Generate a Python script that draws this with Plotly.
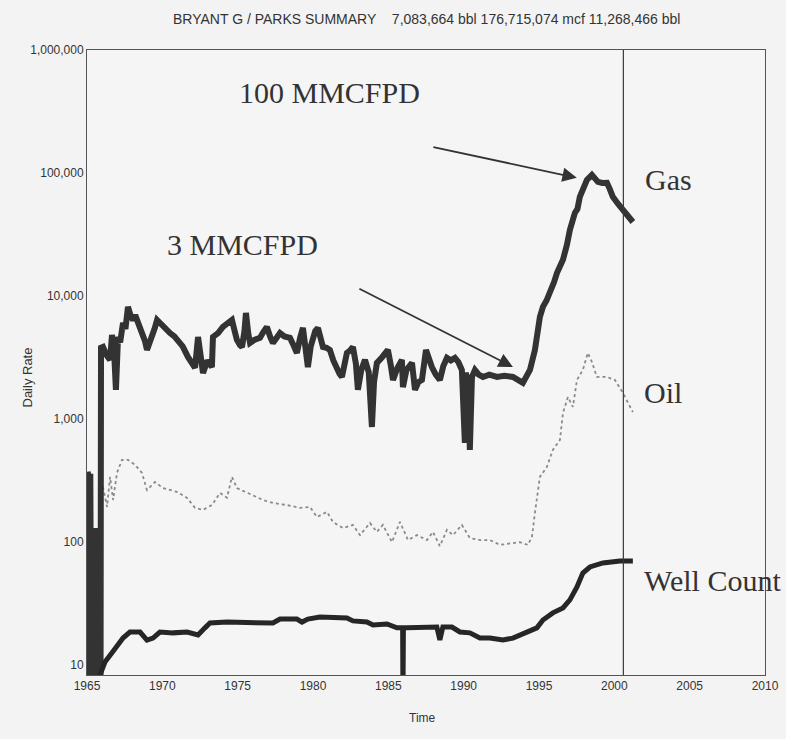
import plotly.graph_objects as go

# ---------------- data ----------------
gas_year = [1965.02, 1965.04, 1965.10, 1965.13, 1965.19, 1965.22, 1965.28,
            1965.45, 1965.48, 1965.55, 1965.60, 1965.67, 1965.72, 1965.80, 1965.85, 1965.90, 1965.93,
            1966.06, 1966.30, 1966.53, 1966.66, 1966.80, 1966.92, 1967.06, 1967.20, 1967.39, 1967.55,
            1967.72, 1967.90, 1968.05, 1968.20, 1968.38, 1968.55, 1968.72, 1968.85, 1968.98, 1969.15,
            1969.31, 1969.50, 1969.65, 1969.85, 1970.04, 1970.25, 1970.51, 1970.80, 1971.04, 1971.35,
            1971.70, 1971.95, 1972.17, 1972.37, 1972.55, 1972.70, 1973.00, 1973.29, 1973.36, 1973.70,
            1974.02, 1974.30, 1974.62, 1974.80, 1974.95, 1975.15, 1975.29, 1975.45, 1975.55, 1975.70,
            1975.82, 1976.10, 1976.48, 1976.70, 1976.94, 1977.15, 1977.34, 1977.60, 1977.81, 1978.10,
            1978.47, 1978.70, 1978.93, 1979.15, 1979.33, 1979.50, 1979.66, 1979.85, 1980.00, 1980.15,
            1980.33, 1980.50, 1980.66, 1980.90, 1981.12, 1981.35, 1981.59, 1981.75, 1981.92, 1982.10,
            1982.25, 1982.45, 1982.65, 1982.85, 1982.98, 1983.20, 1983.45, 1983.70, 1983.91, 1984.05,
            1984.24, 1984.60, 1984.97, 1985.15, 1985.31, 1985.60, 1985.90, 1985.97, 1986.20, 1986.57,
            1986.77, 1987.00, 1987.23, 1987.50, 1987.70, 1987.89, 1988.15, 1988.42, 1988.65, 1988.89,
            1989.15, 1989.42, 1989.65, 1989.88, 1990.08, 1990.15, 1990.22, 1990.30, 1990.41, 1990.55,
            1990.75, 1991.00, 1991.28, 1991.70, 1992.21, 1992.70, 1993.27, 1993.60, 1993.93, 1994.40,
            1994.73, 1995.06, 1995.26, 1995.50, 1995.72, 1996.00, 1996.19, 1996.40, 1996.59, 1996.85,
            1997.05, 1997.38, 1997.55, 1997.71, 1998.00, 1998.18, 1998.51, 1998.70, 1998.91, 1999.20,
            1999.51, 1999.70, 1999.90, 2000.25, 2000.57, 2000.90, 2001.23]
gas_rate = [8, 370, 8, 340, 8, 360, 8,
            8, 125, 8, 130, 8, 120, 8, 125, 8, 3800,
            3860, 3300, 3030, 4830, 3500, 1730, 4650, 4200, 6050, 5400,
            8170, 6900, 6400, 7000, 6170, 5600, 5010, 4300, 3650, 4100,
            4830, 5500, 6400, 6000, 5830, 5400, 5010, 4700, 4400, 3900,
            3200, 2900, 2610, 4650, 3100, 2370, 3000, 2650, 4650, 5000,
            5610, 5900, 6400, 5200, 4400, 4000, 3860, 5200, 7300, 5000,
            4160, 4400, 4570, 5100, 5610, 4700, 4160, 4600, 5010, 4700,
            4570, 4000, 3450, 4600, 5510, 3800, 2650, 3900, 4650, 5200,
            5510, 4600, 3860, 3800, 3650, 3000, 2510, 2350, 2200, 2900,
            3450, 3600, 3860, 2800, 1730, 2500, 3030, 2400, 863, 2000,
            2860, 3200, 3650, 2800, 2080, 2600, 3030, 1820, 2500, 2860,
            1730, 2000, 2080, 3650, 3000, 2650, 2300, 2080, 2700, 3140,
            3000, 3140, 2900, 2510, 640, 2400, 700, 2300, 561, 2200,
            2510, 2300, 2200, 2300, 2200, 2250, 2200, 2100, 1970, 2510,
            3650, 6770, 8170, 9200, 10600, 13000, 15400, 17500, 19700, 26000,
            34500, 47400, 51000, 64000, 78000, 87900, 96600, 92000, 84700, 83000,
            83200, 74000, 64000, 56000, 50100, 45000, 40000]

oil_year = [1966.06, 1966.33, 1966.53, 1966.73, 1966.99, 1967.32, 1967.72, 1968.19, 1968.65, 1968.98,
            1969.51, 1970.04, 1970.97, 1971.64, 1972.17, 1972.70, 1973.29, 1973.83, 1974.29, 1974.62,
            1974.95, 1975.62, 1976.28, 1976.68, 1977.34, 1978.27, 1979.13, 1979.80, 1980.26, 1980.93,
            1981.32, 1981.99, 1982.65, 1983.12, 1983.78, 1984.24, 1984.64, 1985.24, 1985.77, 1986.30,
            1986.90, 1987.56, 1987.96, 1988.42, 1988.89, 1989.29, 1989.88, 1990.41, 1991.08, 1991.74,
            1992.41, 1993.07, 1993.73, 1994.26, 1994.53, 1994.73, 1995.06, 1995.52, 1995.92, 1996.39,
            1996.59, 1996.92, 1997.25, 1997.52, 1997.91, 1998.24, 1998.51, 1998.84, 1999.51, 2000.04,
            2000.57, 2001.23]
oil_rate = [281, 193, 339, 220, 365, 466, 466, 424, 365, 265,
            308, 275, 256, 229, 190, 183, 200, 251, 229, 339,
            275, 251, 233, 220, 208, 200, 190, 193, 160, 176,
            146, 130, 138, 114, 143, 121, 138, 100, 146, 104,
            114, 104, 121, 93, 126, 114, 138, 108, 104, 104,
            95, 98, 100, 95, 110, 173, 339, 408, 561, 677,
            1122, 1510, 1256, 2080, 2510, 3450, 2915, 2200, 2200, 2080,
            1630, 1140]

well_year = [1965.86, 1966.19, 1966.66, 1966.99, 1967.39, 1967.85, 1968.52, 1968.98, 1969.38, 1969.84,
             1970.71, 1971.64, 1972.37, 1972.83, 1973.16, 1974.29, 1975.62, 1976.28, 1977.34, 1977.81,
             1978.93, 1979.27, 1979.66, 1980.46, 1982.25, 1982.65, 1983.58, 1983.98, 1984.91, 1985.57,
             1985.95, 1985.97, 1986.00, 1986.23, 1988.22, 1988.42, 1988.62, 1989.22, 1989.75, 1990.41,
             1991.08, 1991.74, 1992.60, 1993.27, 1994.20, 1994.86, 1995.26, 1995.92, 1996.59, 1997.05,
             1997.52, 1997.91, 1998.38, 1999.24, 2000.37, 2001.23]
well_count = [8.3, 10.6, 12.6, 14.1, 16.6, 18.6, 18.6, 16.0, 16.6, 18.6,
              18.3, 18.6, 17.6, 20.1, 22.0, 22.4, 22.4, 22.0, 22.0, 23.7,
              23.7, 22.4, 23.7, 24.6, 24.2, 22.9, 22.4, 21.2, 21.6, 20.1,
              20.1, 5, 20.1, 20.1, 20.4, 16.0, 20.4, 20.4, 18.6, 18.3,
              16.6, 16.6, 16.0, 16.6, 18.3, 20.1, 23.3, 26.6, 29.2, 33.9,
              43.2, 56.1, 62.8, 67.7, 70.3, 70.3]

y_tick_vals = [10, 100, 1000, 10000, 100000, 1000000]
y_tick_text = ["10", "100", "1,000", "10,000", "100,000", "1,000,000"]
x_tick_vals = [1965, 1970, 1975, 1980, 1985, 1990, 1995, 2000, 2005, 2010]

title_text = ("BRYANT G / PARKS SUMMARY&nbsp;&nbsp;&nbsp;&nbsp;7,083,664 bbl "
              "176,715,074 mcf 11,268,466 bbl")

# ---------------- figure ----------------
fig = go.Figure()
fig.add_trace(go.Scatter(x=oil_year, y=oil_rate, mode="lines", name="Oil",
                         line=dict(color="#8a8a8a", width=1.8, dash="dot")))
fig.add_trace(go.Scatter(x=gas_year, y=gas_rate, mode="lines", name="Gas",
                         line=dict(color="#333333", width=6)))
fig.add_trace(go.Scatter(x=well_year, y=well_count, mode="lines", name="Well Count",
                         line=dict(color="#262626", width=5)))

serif = "Liberation Serif, Times New Roman, serif"
sans = "Liberation Sans, Arial, sans-serif"
ink = "#333333"

ann = []
for txt, xx, yy in [("100 MMCFPD", 1974.95, 5.652), ("3 MMCFPD", 1970.18, 4.416),
                    ("Gas", 2001.9, 4.944), ("Oil", 2001.83, 3.213),
                    ("Well Count", 2001.83, 1.692)]:
    ann.append(dict(text=txt, x=xx, y=yy, xref="x", yref="y", xanchor="left",
                    yanchor="middle", showarrow=False,
                    font=dict(family=serif, size=30, color=ink)))
# arrows
ann.append(dict(x=1997.51, y=4.961, ax=1987.89, ay=5.213, xref="x", yref="y",
                axref="x", ayref="y", text="", showarrow=True, arrowhead=2,
                arrowsize=1.6, arrowwidth=1.8, arrowcolor=ink))
ann.append(dict(x=1993.27, y=3.424, ax=1982.98, ay=4.066, xref="x", yref="y",
                axref="x", ayref="y", text="", showarrow=True, arrowhead=2,
                arrowsize=1.6, arrowwidth=1.8, arrowcolor=ink))
# title and axis titles (positions given in pixels, converted below)
ann.append(dict(text=title_text, x=426, y=19, xref="paper", yref="paper", yanchor="middle",
                showarrow=False, font=dict(family="Liberation Sans Narrow, Arial Narrow, sans-serif",
                                           size=14, color=ink)))
ann.append(dict(text="Daily Rate", x=18, y=378, xref="paper", yref="paper",
                showarrow=False, textangle=-90,
                font=dict(family=sans, size=13, color=ink)))
ann.append(dict(text="Time", x=422, y=727, xref="paper", yref="paper",
                showarrow=False, font=dict(family=sans, size=12, color=ink)))

L, R, T, B = 87, 21, 50, 64
W, H = 786, 739
pw, ph = W - L - R, H - T - B
for a in ann:
    if a.get("xref") == "paper":
        a["x"] = (a["x"] - L) / pw
        a["y"] = (H - B - a["y"]) / ph

fig.update_layout(
    width=W, height=H,
    margin=dict(l=L, r=R, t=T, b=B, autoexpand=False),
    paper_bgcolor="#f3f3f3", plot_bgcolor="#f5f5f5",
    showlegend=False,
    annotations=ann,
    shapes=[dict(type="line", xref="x", yref="paper", x0=2000.6, x1=2000.6, y0=0, y1=1,
                 line=dict(color="#3a3a3a", width=1.2))],
    xaxis=dict(range=[1965, 2010], tickvals=x_tick_vals, showgrid=False, zeroline=False,
               showline=True, mirror=True, linecolor="#555555", linewidth=1,
               ticks="", automargin=False, tickfont=dict(family=sans, size=12, color=ink)),
    yaxis=dict(type="log", range=[0.92, 6.0], tickvals=y_tick_vals, ticktext=y_tick_text,
               showgrid=False, zeroline=False, showline=True, mirror=True,
               linecolor="#555555", linewidth=1, ticks="", automargin=False,
               tickfont=dict(family=sans, size=12, color=ink)),
)

fig.write_html("out.html", config={"displayModeBar": False},
               post_script="document.body.style.margin='0px';")
